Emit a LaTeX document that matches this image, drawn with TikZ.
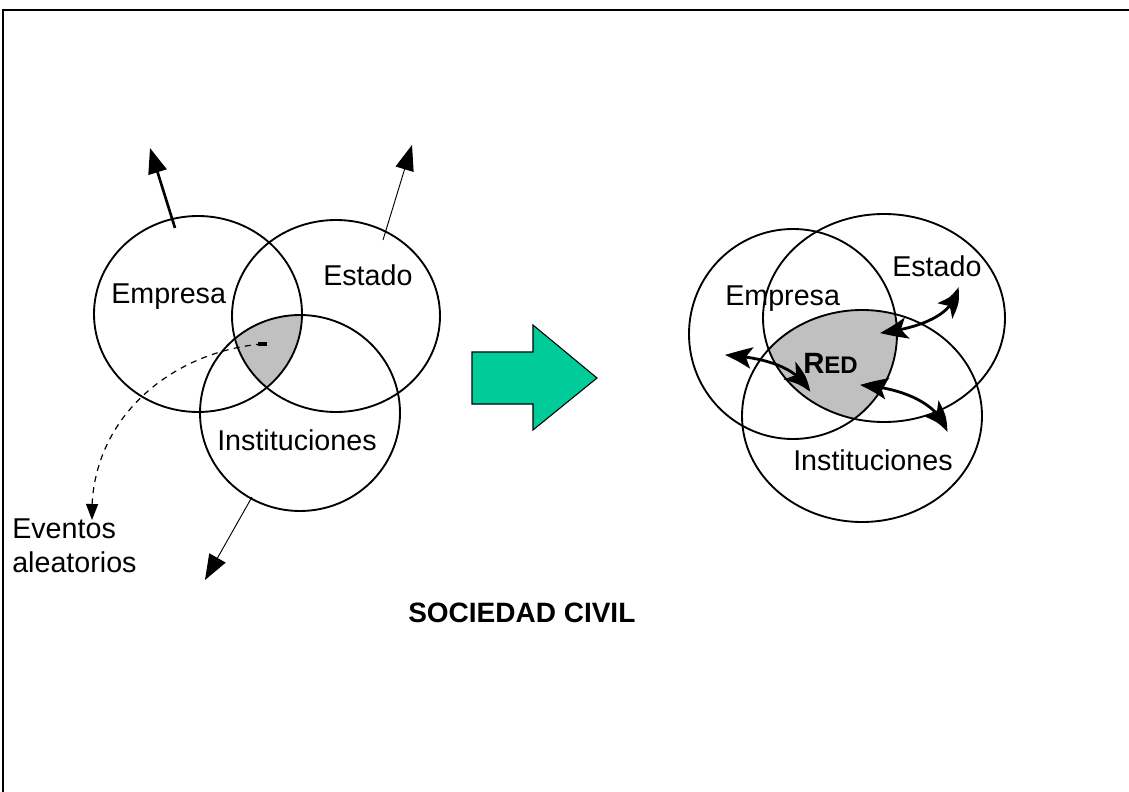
\documentclass[tikz,border=0pt]{standalone}
\usepackage{fontspec}
\setmainfont{Liberation Sans}
\usetikzlibrary{arrows.meta,bending}
\definecolor{redgris}{RGB}{192,192,192}
\definecolor{flecha}{RGB}{0,204,153}
\tikzset{
  conj/.style={line width=1.4pt},
  rotulo/.style={font=\fontsize{21.5}{26}\selectfont, inner sep=0pt, anchor=base west},
  salida/.style={-{Triangle[length=19pt,width=14pt]}},
  punta/.tip={Stealth[length=21pt,width=16pt,inset=5pt,bend]},
  enlace/.style={line width=2.1pt, punta-punta},
}
\begin{document}
\begin{tikzpicture}[x=0.75pt,y=-0.75pt]
	\useasboundingbox (0,0) rectangle (1129,792);
	% marco
	\draw[line width=1.2pt] (3,792) -- (3,10) -- (1129,10);
	
	% antes: tres conjuntos sueltos
	\coordinate (empA) at (198,314);
	\coordinate (estA) at (336,316);
	\coordinate (insA) at (300,413);
	\begin{scope}
		\clip (empA) ellipse [x radius=104, y radius=98];
		\clip (estA) ellipse [x radius=104, y radius=96];
		\fill[redgris] (insA) ellipse [x radius=100, y radius=98];
	\end{scope}
	\draw[conj] (empA) ellipse [x radius=104, y radius=98];
	\draw[conj] (estA) ellipse [x radius=104, y radius=96];
	\draw[conj] (insA) ellipse [x radius=100, y radius=98];
	\node[rotulo] (empresaA) at (111,303) {Empresa};
	\node[rotulo] (estadoA) at (323,285) {Estado};
	\node[rotulo] (instA) at (217,450) {Instituciones};
	
	\coordinate (sEmp0) at (175,228); \coordinate (sEmp1) at (150,148);
	\coordinate (sEst0) at (383,240); \coordinate (sEst1) at (412,145);
	\coordinate (sIns0) at (252,497); \coordinate (sIns1) at (205,580);
	\draw[salida, line width=2pt] (sEmp0) -- (sEmp1);
	\draw[salida, line width=0.7pt] (sEst0) -- (sEst1);
	\draw[salida, line width=0.7pt] (sIns0) -- (sIns1);
	
	% eventos aleatorios
	\coordinate (ev0) at (262,344); \coordinate (ev1) at (92,520);
	\draw[line width=2.5pt] (258,344) -- (ev0) -- (267,344);
	\draw[line width=0.9pt, dash pattern=on 4.5pt off 4pt, -{Triangle[length=12pt,width=9pt]}] (ev0) .. controls (170,352) and (88,420) .. (ev1);
	\node[rotulo, anchor=north west, align=left, font=\fontsize{21.5}{25.5}\selectfont] (eventos) at (12,519) {Eventos\\aleatorios};
	
	% flecha de paso
	\draw[fill=flecha, line width=0.8pt] (472,352) -- (533,352) -- (533,325) -- (597,378) -- (533,430) -- (533,404) -- (472,404) -- cycle;
	
	% despues: la red
	\coordinate (empB) at (793,334);
	\coordinate (estB) at (884,318);
	\coordinate (insB) at (862,416);
	\begin{scope}
		\clip (empB) ellipse [x radius=104, y radius=105];
		\clip (estB) ellipse [x radius=121, y radius=104];
		\fill[redgris] (insB) ellipse [x radius=120, y radius=106];
	\end{scope}
	\draw[conj] (empB) ellipse [x radius=104, y radius=105];
	\draw[conj] (estB) ellipse [x radius=121, y radius=104];
	\draw[conj] (insB) ellipse [x radius=120, y radius=106];
	\node[rotulo] (empresaB) at (725,305) {Empresa};
	\node[rotulo] (estadoB) at (892,276) {Estado};
	\node[rotulo] (instB) at (793,470) {Instituciones};
	\node[rotulo, font=\bfseries] (red) at (803,373) {{\fontsize{22}{26}\selectfont R}{\fontsize{18}{22}\selectfont ED}};
	
	\coordinate (lEmp0) at (725,355); \coordinate (lEmp1) at (810,392);
	\coordinate (lEst0) at (880,333); \coordinate (lEst1) at (958,287);
	\coordinate (lIns0) at (860,385); \coordinate (lIns1) at (947,432);
	\draw[enlace] (lEmp0) .. controls (775,358) and (800,372) .. (lEmp1);
	\draw[enlace] (lEst0) .. controls (920,328) and (955,315) .. (lEst1);
	\draw[enlace] (lIns0) .. controls (905,388) and (940,405) .. (lIns1);
	
	\node[rotulo, font={\fontsize{21}{26}\selectfont\bfseries}] (sociedad) at (408,622) {SOCIEDAD CIVIL};
\end{tikzpicture}
\end{document}
